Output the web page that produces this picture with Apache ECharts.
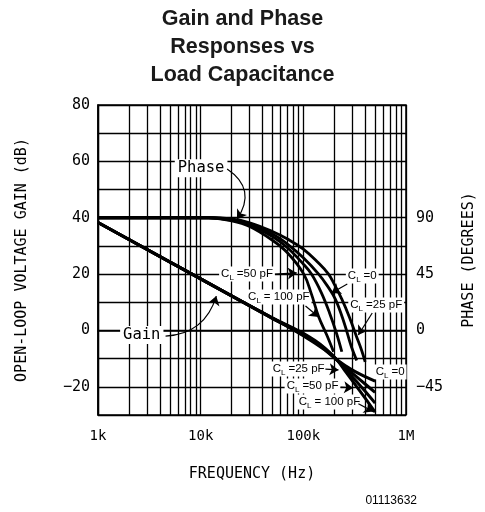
<!DOCTYPE html>
<html>
<head>
<meta charset="utf-8">
<script src="https://cdn.jsdelivr.net/npm/echarts@6/dist/echarts.min.js"></script>
<style>
  html, body { margin: 0; padding: 0; background: #fff; }
  #chart { width: 485px; height: 512px; }
</style>
</head>
<body>
<div id="chart"></div>
<script>
// gain curves (dB) sampled at common frequencies
const gainFreq = [1000, 10000, 50000, 80000, 100000, 130000, 160000, 212000, 260000, 320000, 400000, 500000];
const gainC0   = [38.3, 18.3, 4.3, 0.2, -1.9, -4.5, -6.8, -10.4, -12.6, -14.6, -16.4, -18.0];
const gainC25  = [38.3, 18.3, 4.3, 0.4, -1.6, -4.2, -6.6, -10.4, -13.2, -16.0, -19.0, -22.0];
const gainC50  = [38.3, 18.3, 4.4, 0.6, -1.3, -3.9, -6.3, -10.4, -14.0, -17.6, -21.6, -25.8];
const gainC100 = [38.3, 18.3, 4.5, 0.8, -1.0, -3.6, -6.1, -10.4, -14.8, -19.2, -24.0, -29.0];

// phase curves (degrees) as [frequency, phase]
const phaseC0 = [[1000, 90], [12000, 90], [20000, 89], [30000, 86], [50000, 79], [70000, 73], [100000, 65],
  [140000, 54], [176000, 45], [200000, 37], [237000, 25], [280000, 11], [330000, -5], [370000, -16], [400000, -25]];
const phaseC25 = [[1000, 90], [12000, 90], [20000, 88.5], [30000, 85], [50000, 77], [70000, 69], [100000, 58],
  [141000, 45], [170000, 36], [205000, 25], [250000, 6], [294000, -13], [331000, -24]];
const phaseC50 = [[1000, 90], [12000, 90], [20000, 88], [30000, 84], [50000, 75], [70000, 66], [100000, 53],
  [120000, 45], [150000, 30], [180000, 14], [210000, -2], [237000, -17]];
const phaseC100 = [[1000, 90], [12000, 90], [20000, 87.5], [30000, 83], [50000, 72], [70000, 62], [101000, 45],
  [120000, 29], [141000, 11], [170000, -4], [197000, -17]];

// tick labels
const freqTicks = { 1000: '1k', 10000: '10k', 100000: '100k', 1000000: '1M' };
const gainTicks = [-20, 0, 20, 40, 60, 80];
const phaseTicks = [-45, 0, 45, 90];

const minorFreqs = [];
[1000, 10000, 100000].forEach(d => {
  for (let k = 2; k <= 9; k++) minorFreqs.push(d * k);
});

const mono = 'DejaVu Sans Mono';
const sans = 'Liberation Sans';

// text labels placed at [frequency, dB]
const notes = [
  { at: [10100, 57.6], text: 'Phase', big: true },
  { at: [2670, -1.6], text: 'Gain', big: true },
  { at: [28300, 20.0], text: '{c|C}{s|L}{c|=50 pF}' },
  { at: [375000, 19.3], text: '{c|C}{s|L}{c|=0}' },
  { at: [57700, 11.9], text: '{c|C}{s|L}{c|= 100 pF}' },
  { at: [513000, 9.0], text: '{c|C}{s|L}{c|=25 pF}' },
  { at: [90000, -13.7], text: '{c|C}{s|L}{c|=25 pF}' },
  { at: [123000, -19.7], text: '{c|C}{s|L}{c|=50 pF}' },
  { at: [180000, -25.4], text: '{c|C}{s|L}{c|= 100 pF}' },
  { at: [700000, -14.7], text: '{c|C}{s|L}{c|=0}' }
];

// arrows: from, to, curveness
const arrows = [
  { from: [18100, 57.3], to: [22600, 39.5], curve: 0.5 },
  { from: [4550, -2.0], to: [14200, 12.2], curve: -0.35 },
  { from: [52800, 20.0], to: [86300, 20.4], curve: 0 },
  { from: [268000, 16.5], to: [188000, 13.3], curve: 0 },
  { from: [105000, 8.7], to: [141000, 4.8], curve: 0 },
  { from: [469000, 6.2], to: [343000, -1.6], curve: 0 },
  { from: [164000, -13.7], to: [220000, -14.0], curve: 0 },
  { from: [230000, -20.1], to: [305000, -20.4], curve: 0 },
  { from: [344000, -26.0], to: [480000, -28.8], curve: 0 }
];

const chart = echarts.init(document.getElementById('chart'));

const curve = (name, data, yIndex, width) => ({
  name: name,
  type: 'line',
  yAxisIndex: yIndex,
  data: data,
  smooth: 0.4,
  symbol: 'none',
  silent: true,
  z: 5,
  lineStyle: { color: '#000', width: width }
});

const labelStyle = n => ({
  show: true,
  position: 'inside',
  formatter: n.text,
  backgroundColor: '#fff',
  padding: n.big ? [1, 3] : [0, 2],
  color: '#000',
  fontFamily: n.big ? mono : sans,
  fontSize: n.big ? 15.5 : 11.5,
  rich: {
    c: { fontFamily: sans, fontSize: 11.5, color: '#000' },
    s: { fontFamily: sans, fontSize: 8, color: '#000', padding: [7, 3, 0, 0] }
  }
});

const option = {
  animation: false,
  backgroundColor: '#fff',
  title: {
    text: 'Gain and Phase\nResponses vs\nLoad Capacitance',
    left: 'center',
    top: 0,
    textStyle: {
      fontFamily: sans,
      fontWeight: 'bold',
      fontSize: 21.5,
      lineHeight: 28,
      color: '#1a1a1a'
    }
  },
  grid: {
    left: 98, right: 77, top: 105, bottom: 97,
    show: true,
    borderColor: '#000',
    borderWidth: 1.5
  },
  xAxis: {
    type: 'log',
    logBase: 10,
    min: 1000,
    max: 1000000,
    axisLine: { show: true, lineStyle: { color: '#000', width: 1.5 } },
    axisTick: { show: false },
    splitLine: { show: true, lineStyle: { color: '#000', width: 1.3 } },
    axisLabel: {
      margin: 14,
      color: '#000',
      fontFamily: mono,
      fontSize: 14,
      formatter: v => freqTicks[Math.round(v)] || ''
    },
    name: 'FREQUENCY (Hz)',
    nameLocation: 'middle',
    nameGap: 52,
    nameTextStyle: { fontFamily: mono, fontSize: 15, color: '#000' }
  },
  yAxis: [{
    type: 'value',
    min: -30,
    max: 80,
    interval: 10,
    axisLine: { show: true, lineStyle: { color: '#000', width: 1.5 } },
    axisTick: { show: false },
    splitLine: { show: true, lineStyle: { color: '#000', width: 1.3 } },
    axisLabel: {
      margin: 8,
      color: '#000',
      fontFamily: mono,
      fontSize: 15,
      formatter: v => gainTicks.includes(v) ? String(v).replace('-', '\u2212') : ''
    },
    name: 'OPEN-LOOP VOLTAGE GAIN (dB)',
    nameLocation: 'middle',
    nameRotate: 90,
    nameGap: 68,
    nameTextStyle: { fontFamily: mono, fontSize: 15, color: '#000' }
  }, {
    type: 'value',
    position: 'right',
    min: -67.5,
    max: 180,
    interval: 22.5,
    axisLine: { show: false },
    axisTick: { show: false },
    splitLine: { show: false },
    axisLabel: {
      margin: 10,
      color: '#000',
      fontFamily: mono,
      fontSize: 15,
      formatter: v => phaseTicks.includes(v) ? String(v).replace('-', '\u2212') : ''
    },
    name: 'PHASE (DEGREES)',
    nameLocation: 'middle',
    nameRotate: 90,
    nameGap: 56,
    nameTextStyle: { fontFamily: mono, fontSize: 15, color: '#000' }
  }],
  series: [
    {
      // minor log grid lines
      type: 'line',
      data: [],
      silent: true,
      markLine: {
        silent: true,
        symbol: ['none', 'none'],
        label: { show: false },
        lineStyle: { color: '#000', width: 1.3, type: 'solid' },
        data: minorFreqs.map(f => ({ xAxis: f }))
      }
    },
    curve('Gain C=0', gainFreq.map((f, i) => [f, gainC0[i]]), 0, 3),
    curve('Gain C=25', gainFreq.map((f, i) => [f, gainC25[i]]), 0, 3),
    curve('Gain C=50', gainFreq.map((f, i) => [f, gainC50[i]]), 0, 3),
    curve('Gain C=100', gainFreq.map((f, i) => [f, gainC100[i]]), 0, 3),
    curve('Phase C=0', phaseC0, 1, 2.8),
    curve('Phase C=25', phaseC25, 1, 2.8),
    curve('Phase C=50', phaseC50, 1, 2.8),
    curve('Phase C=100', phaseC100, 1, 2.8),
    {
      // text annotations
      type: 'scatter',
      data: [],
      silent: true,
      z: 10,
      markPoint: {
        silent: true,
        symbol: 'circle',
        symbolSize: 1,
        itemStyle: { color: 'rgba(0,0,0,0)' },
        data: notes.map(n => ({ coord: n.at, label: labelStyle(n) }))
      }
    },
    {
      // pointer arrows
      type: 'lines',
      coordinateSystem: 'cartesian2d',
      silent: true,
      z: 9,
      symbol: ['none', 'arrow'],
      symbolSize: [6, 9],
      lineStyle: { color: '#000', width: 1.2, opacity: 1 },
      data: arrows.map(a => ({
        coords: [a.from, a.to],
        lineStyle: { curveness: a.curve }
      }))
    }
  ],
  graphic: [{
    type: 'text',
    right: 68,
    bottom: 5,
    style: { text: '01113632', font: '12px "Liberation Sans"', fill: '#000' }
  }]
};

chart.setOption(option);
</script>
</body>
</html>
